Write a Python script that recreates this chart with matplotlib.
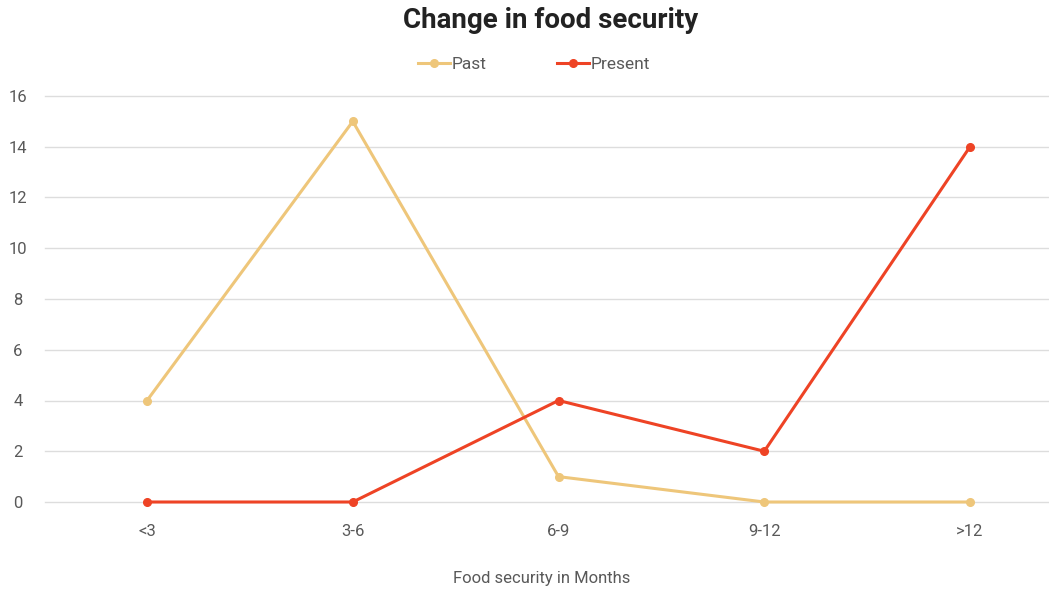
import matplotlib
matplotlib.use("Agg")
import matplotlib.pyplot as plt
from matplotlib.lines import Line2D

categories = ["<3", "3-6", "6-9", "9-12", ">12"]
past = [4, 15, 1, 0, 0]
present = [0, 0, 4, 2, 14]
yticks = [0, 2, 4, 6, 8, 10, 12, 14, 16]

plt.rcParams['font.family'] = ['Roboto', 'DejaVu Sans']
text_color = "#595959"
past_color = "#EEC67A"
present_color = "#EE4325"

fig = plt.figure(figsize=(10.49, 5.92), dpi=100)
ax = fig.add_axes([45/1049, 90/592, 1 - 45/1049, (502-96)/592])

x = list(range(len(categories)))
ax.plot(x, past, color=past_color, lw=2.2, marker='o', ms=5.5, clip_on=False, zorder=3)
ax.plot(x, present, color=present_color, lw=2.2, marker='o', ms=5.5, clip_on=False, zorder=4)

ax.set_xlim(-0.496, 4.384)
ax.set_ylim(0, 16)
ax.set_yticks(yticks)
ax.set_xticks(x)
ax.set_xticklabels(categories)
ax.grid(axis='y', color='#DDDDDD', lw=1)
for gl in ax.get_ygridlines():
    gl.set_clip_on(False)
ax.set_axisbelow(True)
for s in ax.spines.values():
    s.set_visible(False)
ax.tick_params(length=0, colors=text_color, labelsize=12)
ax.tick_params(axis='x', pad=16)
ax.tick_params(axis='y', pad=19.5)
for lab in ax.get_yticklabels():
    lab.set_horizontalalignment('center')

fig.text(542/1049, 1 - 578/592, "Food security in Months", ha='center', va='center',
         color=text_color, fontsize=12)
fig.text(551/1049, 1 - 20/592, "Change in food security", ha='center', va='center',
         color="#222222", fontsize=20, fontweight='bold')

handles = [Line2D([0], [0], color=past_color, lw=2.2, marker='o', ms=5.5),
           Line2D([0], [0], color=present_color, lw=2.2, marker='o', ms=5.5)]
leg = fig.legend(handles, ["Past", "Present"], loc='center', bbox_to_anchor=(534/1049, 1 - 64/592),
                 ncol=2, frameon=False, fontsize=12.5, handlelength=1.8, handletextpad=0.1,
                 columnspacing=4.1)
for t in leg.get_texts():
    t.set_color(text_color)

fig.savefig("out.png", dpi=100)
